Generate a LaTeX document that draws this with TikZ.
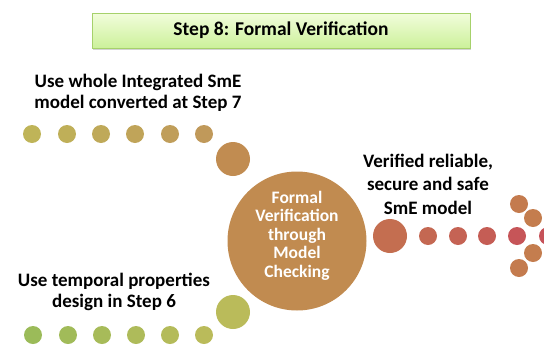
\documentclass[tikz,border=0pt]{standalone}
\usepackage{fontspec}
\setmainfont{Carlito}
\usetikzlibrary{shadows}

\definecolor{boxtop}{HTML}{F2FDDC}
\definecolor{boxbottom}{HTML}{CCF19A}
\definecolor{boxline}{HTML}{A6D16B}
\definecolor{oliveA}{HTML}{BFB458}
\definecolor{oliveB}{HTML}{C0995A}
\definecolor{greenA}{HTML}{9BBB59}
\definecolor{greenB}{HTML}{BABB5A}
\definecolor{tan}{HTML}{C18B50}
\definecolor{redA}{HTML}{C46E50}
\definecolor{redB}{HTML}{C65259}
\definecolor{rust}{HTML}{C47B4E}

\begin{document}
\begin{tikzpicture}[x=1pt, y=-1pt,
        title/.style={draw=boxline, top color=boxtop, bottom color=boxbottom, drop shadow={opacity=0.35, shadow xshift=1pt, shadow yshift=-1.5pt}, minimum width=378pt, minimum height=35pt, font=\fontsize{19.5}{22}\selectfont\bfseries},
        caption/.style={align=center, font=\fontsize{19}{20.5}\selectfont\bfseries},
        dot/.style={circle, inner sep=0pt, minimum size=18pt},
        bigdot/.style={circle, inner sep=0pt, minimum size=34pt},
        hub/.style={circle, fill=tan, inner sep=0pt, minimum size=139pt},
        hubtext/.style={text=white, align=center, font=\fontsize{17.5}{18.5}\selectfont\bfseries}
    ]
        \useasboundingbox (0,0) rectangle (544,346);

        \node (step) at (281,30.5) [title] {Step 8: Formal Verification};

        \node (modeltext) at (138,93) [caption] {Use whole Integrated SmE\\model converted at Step 7};
        \node (proptext) at (114,292) [caption] {Use temporal properties\\design in Step 6};
        \node (resulttext) at (428,184) [caption, font=\fontsize{19}{23.5}\selectfont\bfseries] {Verified reliable,\\secure and safe\\SmE model};

        \node (check) at (297,241) [hub] {};
        \node (checktext) at (297,235.5) [hubtext] {Formal\\Verification\\through\\Model\\Checking};

        % model input
        \node (m1) at (32,134) [dot, fill=oliveA] {};
        \node (m2) at (67,134) [dot, fill=oliveB!20!oliveA] {};
        \node (m3) at (101,134) [dot, fill=oliveB!40!oliveA] {};
        \node (m4) at (135,134) [dot, fill=oliveB!60!oliveA] {};
        \node (m5) at (170,134) [dot, fill=oliveB!80!oliveA] {};
        \node (m6) at (204,134) [dot, fill=oliveB] {};
        \node (m7) at (233,159) [bigdot, fill=tan!90!oliveB] {};

        % properties input
        \node (p1) at (33,335) [dot, fill=greenA] {};
        \node (p2) at (68,335) [dot, fill=greenB!20!greenA] {};
        \node (p3) at (102,335) [dot, fill=greenB!40!greenA] {};
        \node (p4) at (136,335) [dot, fill=greenB!60!greenA] {};
        \node (p5) at (170,335) [dot, fill=greenB!80!greenA] {};
        \node (p6) at (204,335) [dot, fill=greenB] {};
        \node (p7) at (233,312) [bigdot, fill=greenB] {};

        % verified output
        \node (r1) at (390,236) [bigdot, fill=redA] {};
        \node (r2) at (428,236) [dot, fill=redB!20!redA] {};
        \node (r3) at (458,236) [dot, fill=redB!40!redA] {};
        \node (r4) at (487,236) [dot, fill=redB!60!redA] {};
        \node (r5) at (517,236) [dot, fill=redB!90!redA] {};
        \node (r6) at (548,236) [dot, fill=redB] {};
        \node (a1) at (519,204) [dot, fill=rust] {};
        \node (a2) at (533,218) [dot, fill=rust!85!tan] {};
        \node (a3) at (533,253) [dot, fill=rust!85!tan] {};
        \node (a4) at (519,268) [dot, fill=rust] {};
    \end{tikzpicture}
\end{document}
